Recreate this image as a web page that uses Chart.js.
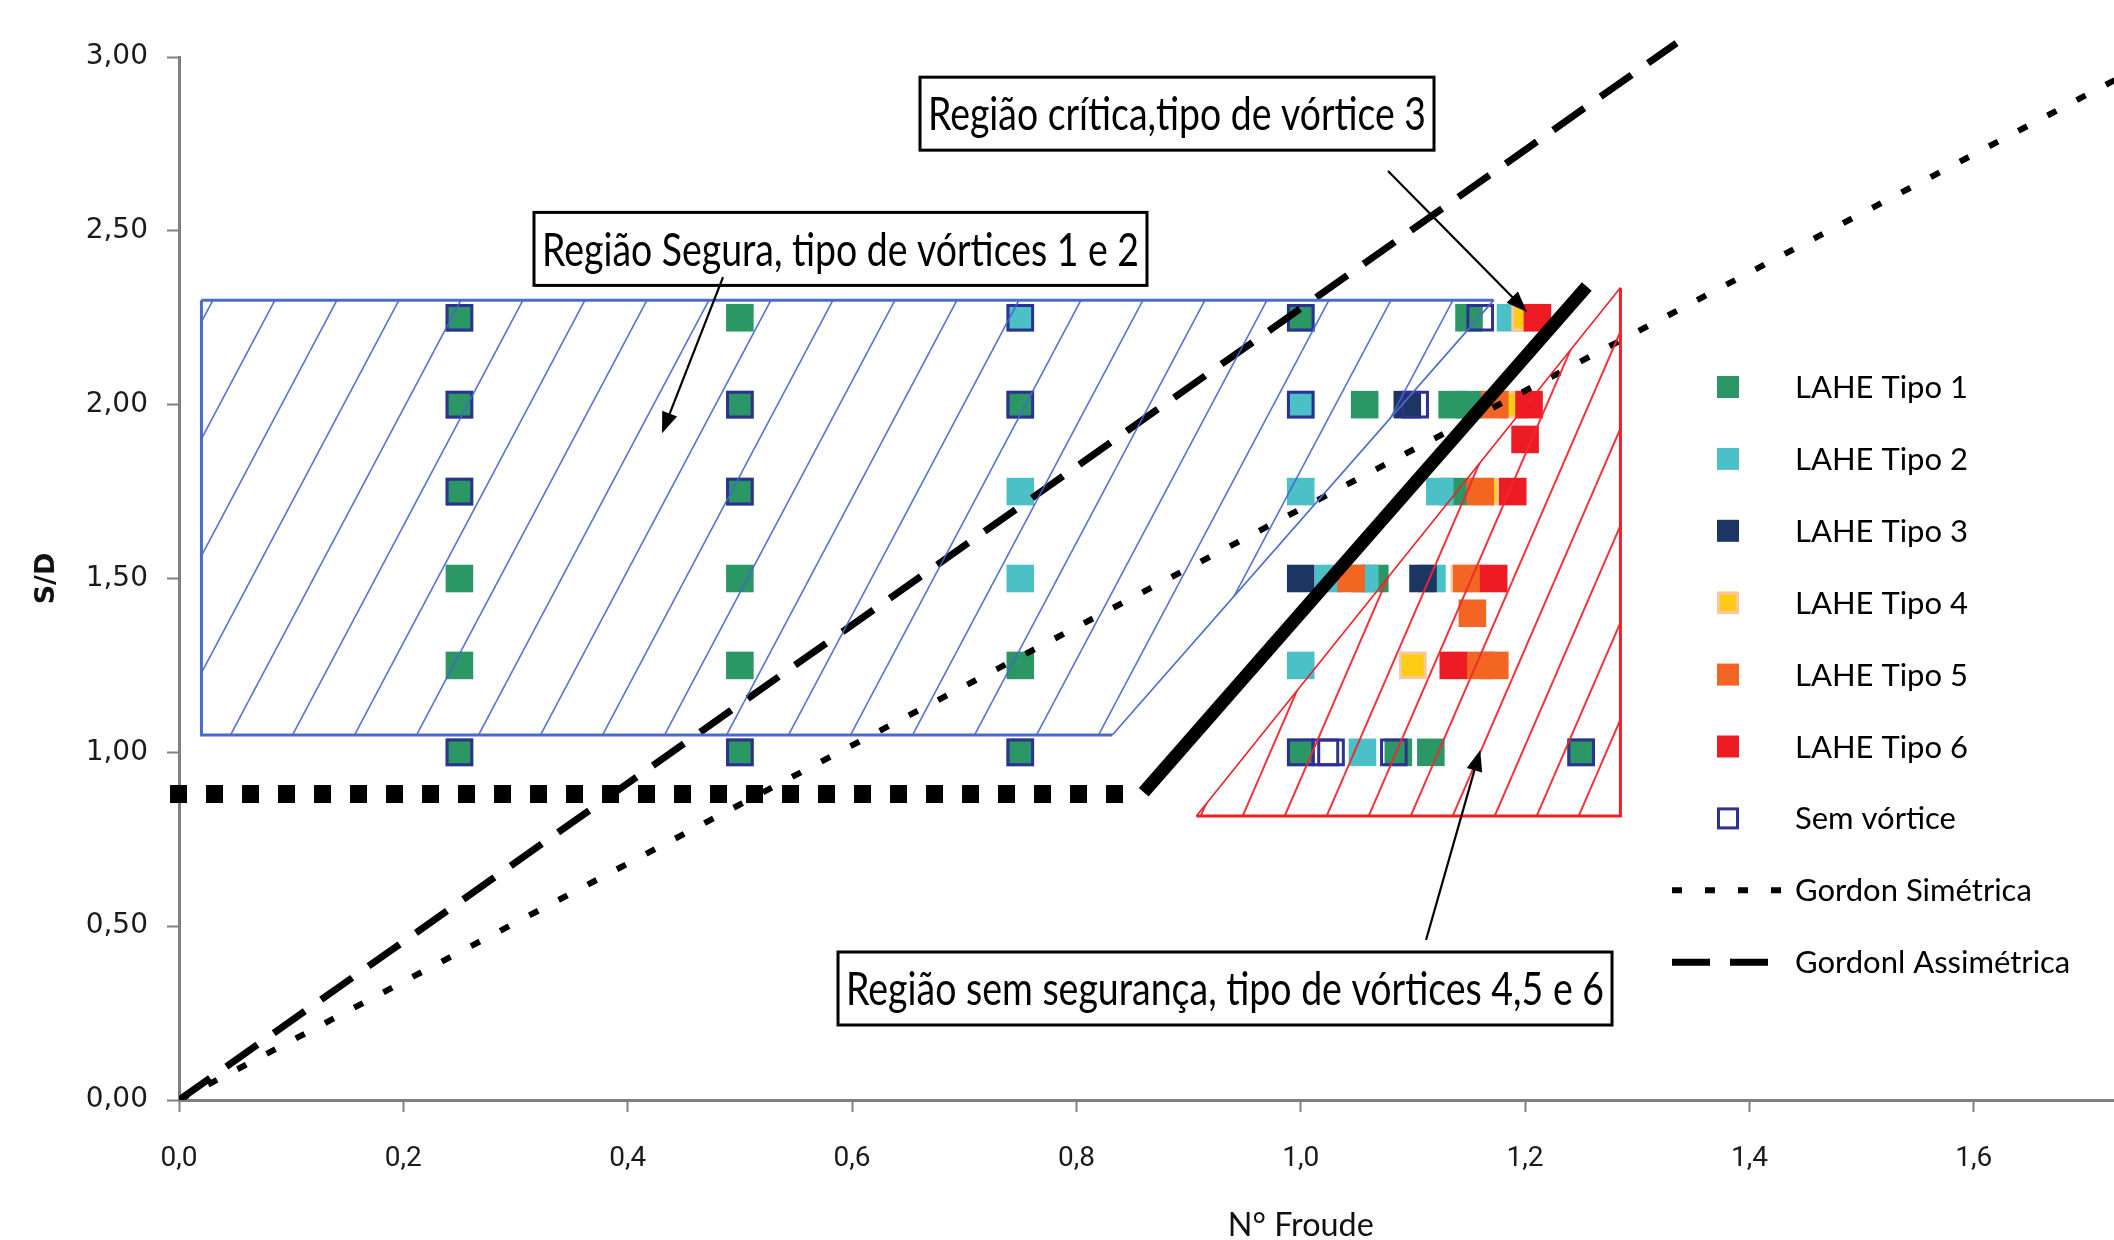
<!DOCTYPE html>
<html>
<head>
<meta charset="utf-8">
<script src="https://cdn.jsdelivr.net/npm/chart.js@4/dist/chart.umd.min.js"></script>
<style>
html,body{margin:0;padding:0;background:#fff;overflow:hidden}
canvas{display:block}
</style>
</head>
<body>
<canvas id="c" width="2114" height="1240"></canvas>
<script>
// ================= DATA =================
const xTickValues = [0, 0.2, 0.4, 0.6, 0.8, 1.0, 1.2, 1.4, 1.6];
const xTickLabels = ['0,0', '0,2', '0,4', '0,6', '0,8', '1,0', '1,2', '1,4', '1,6'];
const yTickValues = [0, 0.5, 1.0, 1.5, 2.0, 2.5, 3.0];
const yTickLabels = ['0,00', '0,50', '1,00', '1,50', '2,00', '2,50', '3,00'];
const xMin = 0, xMax = 1.725, yMin = 0, yMax = 3.0;

// [N° Froude, S/D]
const tipo1 = [
  [0.25, 2.25], [0.25, 2.00], [0.25, 1.75], [0.25, 1.50], [0.25, 1.25], [0.25, 1.00],
  [0.50, 2.25], [0.50, 2.00], [0.50, 1.75], [0.50, 1.50], [0.50, 1.25], [0.50, 1.00],
  [0.75, 2.00], [0.75, 1.25], [0.75, 1.00],
  [1.00, 2.25], [1.00, 1.00],
  [1.150, 2.25], [1.057, 2.00], [1.135, 2.00], [1.150, 2.00], [1.136, 1.75],
  [1.066, 1.50], [1.087, 1.00], [1.116, 1.00], [1.250, 1.00]
];
const tipo2 = [
  [0.75, 2.25], [0.75, 1.75], [0.75, 1.50],
  [1.00, 2.00], [1.00, 1.75], [1.00, 1.25],
  [1.187, 2.25], [1.124, 1.75], [1.025, 1.50], [1.057, 1.50], [1.117, 1.50], [1.055, 1.00]
];
const tipo3 = [[1.00, 1.50], [1.095, 2.00], [1.109, 1.50]];
const tipo4 = [[1.200, 2.25], [1.190, 2.00], [1.165, 1.75], [1.146, 1.50], [1.100, 1.25]];
const tipo5 = [[1.173, 2.00], [1.160, 1.75], [1.045, 1.50], [1.148, 1.50], [1.153, 1.40], [1.160, 1.25], [1.173, 1.25]];
const tipo6 = [[1.211, 2.25], [1.2035, 2.00], [1.200, 1.90], [1.189, 1.75], [1.172, 1.50], [1.136, 1.25]];
const semVortice = [
  [0.25, 2.25], [0.25, 2.00], [0.25, 1.75], [0.25, 1.00],
  [0.50, 2.00], [0.50, 1.75], [0.50, 1.00],
  [0.75, 2.25], [0.75, 2.00], [0.75, 1.00],
  [1.00, 2.25], [1.00, 2.00], [1.00, 1.00],
  [1.160, 2.25], [1.102, 2.00], [1.022, 1.00], [1.027, 1.00], [1.083, 1.00], [1.250, 1.00]
];
const gordonSimetrica = [[0, 0], [1.80, 3.06]];
const gordonAssimetrica = [[0, 0], [1.335, 3.04]];

// drawn regions / limits
const regiaoSegura = [[0.02, 2.30], [1.172, 2.30], [0.832, 1.05], [0.02, 1.05], [0.02, 2.30]];
const regiaoSemSeguranca = [[0.907, 0.817], [1.285, 0.817], [1.285, 2.336], [0.907, 0.817]];
const limiteHorizontal = [[-0.008, 0.88], [0.85, 0.88]];
const limiteInclinado = [[0.86, 0.885], [1.255, 2.34]];

// annotations (texts and anchors in data units)
const noteTexts = ['Região crítica,tipo de vórtice 3', 'Região Segura, tipo de vórtices 1 e 2', 'Região sem segurança, tipo de vórtices 4,5 e 6'];
const noteCenters = [[0.8897, 2.837], [0.5897, 2.448], [0.9325, 0.3207]];
const noteArrowFrom = [[1.0778, 2.672], [0.485, 2.367], [1.1117, 0.460]];
const noteArrowTo = [[1.2017, 2.2665], [0.4306, 1.918], [1.160, 1.0067]];

// ================= STYLE =================
const noteBoxW = [514, 613, 774];
const noteBoxH = 73;
const legendStyle = { top: 387, gap: 71.9, boxX: 1728, box: 22, lineX0: 1672, lineX1: 1781, textX: 1795, font: '31px Lato' };

const pts = a => a.map(([x, y]) => ({ x, y }));

function hatch(color, w, h, lw) {
  const c = document.createElement('canvas');
  c.width = w; c.height = h;
  const g = c.getContext('2d');
  g.strokeStyle = color; g.lineWidth = lw;
  g.beginPath();
  for (const o of [-w, 0, w]) { g.moveTo(o, h); g.lineTo(o + w, 0); }
  g.stroke();
  return g.createPattern(c, 'repeat');
}
const blueHatch = hatch('rgba(70,100,205,0.9)', 62, 117, 1.6);
const redHatch = hatch('rgba(240,40,50,0.95)', 42, 97, 2);

function marker(label, data, color, order, extra) {
  return Object.assign({
    label, data: pts(data), showInLegend: true, order,
    pointStyle: 'rect', pointRadius: 19.5, pointHoverRadius: 19.5,
    pointBackgroundColor: color, pointBorderColor: color, pointBorderWidth: 0,
    backgroundColor: color, borderColor: color
  }, extra || {});
}

const datasets = [
  marker('LAHE Tipo 1', tipo1, '#2b9764', 20),
  marker('LAHE Tipo 2', tipo2, '#4bc0c6', 19),
  marker('LAHE Tipo 3', tipo3, '#1c3563', 18),
  marker('LAHE Tipo 4', tipo4, '#ffcc14', 17, { pointRadius: 17.4, pointBorderWidth: 3, pointBorderColor: '#f8c79b', borderColor: '#f8c79b' }),
  marker('LAHE Tipo 5', tipo5, '#f26522', 16),
  marker('LAHE Tipo 6', tipo6, '#ed1c24', 15),
  marker('Sem vórtice', semVortice, 'rgba(0,0,0,0)', 14, { pointRadius: 17.4, pointBorderWidth: 3, pointBorderColor: '#2e3192', borderColor: '#2e3192' }),
  {
    type: 'line', label: 'Gordon Simétrica', showInLegend: true, data: pts(gordonSimetrica), order: 10,
    borderColor: '#000', borderWidth: 6, borderDash: [10, 23], pointRadius: 0, fill: false
  },
  {
    type: 'line', label: 'Gordonl Assimétrica', showInLegend: true, data: pts(gordonAssimetrica), order: 11,
    borderColor: '#000', borderWidth: 7, borderDash: [38, 20], pointRadius: 0, fill: false,
    clip: { left: 0, top: false, right: 0, bottom: 0 }
  },
  {
    type: 'line', label: 'Região Segura', data: pts(regiaoSegura), order: 8, hatch: blueHatch,
    borderColor: '#4a6bc8', borderWidth: 3, pointRadius: 0, fill: false,
    segment: { borderWidth: c => c.p0DataIndex === 1 ? 1.6 : 3 }
  },
  {
    type: 'line', label: 'Região sem segurança', data: pts(regiaoSemSeguranca), order: 7, hatch: redHatch,
    borderColor: '#ee2028', borderWidth: 3, pointRadius: 0, fill: false,
    segment: { borderWidth: c => c.p0DataIndex === 2 ? 1.6 : 3 }
  },
  {
    type: 'line', label: 'Limite horizontal', data: pts(limiteHorizontal), order: 3,
    borderColor: '#000', borderWidth: 18, borderDash: [17, 19], pointRadius: 0, fill: false,
    clip: { left: false, top: 0, right: 0, bottom: 0 }
  },
  {
    type: 'line', label: 'Limite inclinado', data: pts(limiteInclinado), order: 2,
    borderColor: '#000', borderWidth: 13, pointRadius: 0, fill: false
  }
];

function drawArrow(ctx, x1, y1, x2, y2) {
  const a = Math.atan2(y2 - y1, x2 - x1), L = 21, W = 8;
  ctx.beginPath(); ctx.moveTo(x1, y1);
  ctx.lineTo(x2 - Math.cos(a) * L * 0.8, y2 - Math.sin(a) * L * 0.8);
  ctx.lineWidth = 2.2; ctx.strokeStyle = '#000'; ctx.stroke();
  ctx.beginPath();
  ctx.moveTo(x2, y2);
  ctx.lineTo(x2 - Math.cos(a) * L - Math.sin(a) * W, y2 - Math.sin(a) * L + Math.cos(a) * W);
  ctx.lineTo(x2 - Math.cos(a) * L + Math.sin(a) * W, y2 - Math.sin(a) * L - Math.cos(a) * W);
  ctx.closePath(); ctx.fillStyle = '#000'; ctx.fill();
}

// hatch fill of the region polygons, drawn from the dataset's own points
const hatchPlugin = {
  id: 'hatchFill',
  beforeDatasetDraw(chart, args) {
    const ds = chart.data.datasets[args.index];
    if (!ds.hatch) return;
    const pts = args.meta.data, ctx = chart.ctx, a = chart.chartArea;
    ctx.save();
    ctx.beginPath(); ctx.rect(a.left, a.top, a.right - a.left, a.bottom - a.top); ctx.clip();
    ctx.beginPath();
    pts.forEach((p, i) => i ? ctx.lineTo(p.x, p.y) : ctx.moveTo(p.x, p.y));
    ctx.closePath();
    ctx.fillStyle = ds.hatch;
    ctx.fill();
    ctx.restore();
  }
};

const notesPlugin = {
  id: 'notes',
  afterDatasetsDraw(chart) {
    const { ctx, scales: { x, y } } = chart;
    ctx.save();
    noteTexts.forEach((t, i) => {
      const cx = x.getPixelForValue(noteCenters[i][0]);
      const cy = y.getPixelForValue(noteCenters[i][1]);
      const w = noteBoxW[i], h = noteBoxH;
      ctx.fillStyle = '#fff';
      ctx.fillRect(cx - w / 2, cy - h / 2, w, h);
      ctx.lineWidth = 3; ctx.strokeStyle = '#000';
      ctx.strokeRect(cx - w / 2, cy - h / 2, w, h);
      ctx.font = '46px Lato';
      const tw = ctx.measureText(t).width;
      const sx = (w - 16) / tw;
      ctx.save();
      ctx.translate(cx, cy + 2);
      ctx.scale(sx, 1);
      ctx.fillStyle = '#000'; ctx.textAlign = 'center'; ctx.textBaseline = 'middle';
      ctx.fillText(t, 0, 0);
      ctx.restore();
      drawArrow(ctx,
        x.getPixelForValue(noteArrowFrom[i][0]), y.getPixelForValue(noteArrowFrom[i][1]),
        x.getPixelForValue(noteArrowTo[i][0]), y.getPixelForValue(noteArrowTo[i][1]));
    });
    ctx.restore();
  }
};

const legendPlugin = {
  id: 'customLegend',
  afterDraw(chart) {
    const ctx = chart.ctx, L = legendStyle;
    ctx.save();
    chart.data.datasets.filter(d => d.showInLegend).forEach((d, i) => {
      const yc = L.top + i * L.gap;
      if (d.type === 'line') {
        ctx.strokeStyle = d.borderColor; ctx.lineWidth = d.borderWidth;
        ctx.setLineDash(d.borderDash || []);
        ctx.beginPath(); ctx.moveTo(L.lineX0, yc); ctx.lineTo(L.lineX1, yc); ctx.stroke();
        ctx.setLineDash([]);
      } else {
        const s = L.box, bw = d.pointBorderWidth || 0;
        ctx.fillStyle = d.pointBackgroundColor;
        ctx.fillRect(L.boxX - s / 2, yc - s / 2, s, s);
        if (bw) {
          ctx.lineWidth = bw; ctx.strokeStyle = d.pointBorderColor;
          ctx.strokeRect(L.boxX - s / 2 + bw / 2, yc - s / 2 + bw / 2, s - bw, s - bw);
        }
      }
      ctx.font = L.font; ctx.fillStyle = '#000';
      ctx.textAlign = 'left'; ctx.textBaseline = 'middle';
      ctx.fillText(d.label, L.textX, yc + 1);
    });
    // x axis title
    const xs = chart.scales.x;
    ctx.font = '32px Lato';
    const t = 'N° Froude';
    const tw = ctx.measureText(t).width;
    ctx.save();
    ctx.translate(xs.getPixelForValue(1.0), 1236);
    ctx.scale(146 / tw, 1);
    ctx.textAlign = 'center'; ctx.textBaseline = 'alphabetic';
    ctx.fillStyle = '#111';
    ctx.fillText(t, 0, 0);
    ctx.restore();
    ctx.restore();
  }
};

new Chart(document.getElementById('c'), {
  type: 'scatter',
  data: { datasets },
  options: {
    responsive: false, animation: false, devicePixelRatio: 1, events: [],
    layout: { autoPadding: false, padding: { top: 57, right: 0, left: 0, bottom: 0 } },
    plugins: { legend: { display: false }, tooltip: { enabled: false } },
    scales: {
      x: {
        type: 'linear', min: xMin, max: xMax,
        afterBuildTicks: s => { s.ticks = xTickValues.map(v => ({ value: v })); },
        afterFit: s => { s.height = 140; s.paddingRight = 0; s.paddingLeft = 0; },
        ticks: {
          callback: (v, i) => xTickLabels[i], autoSkip: false, maxRotation: 0,
          font: { family: 'Roboto', size: 28 }, color: '#1a1a1a', padding: 30
        },
        grid: { display: true, drawOnChartArea: false, drawTicks: true, tickLength: 12, tickWidth: 2, tickColor: '#808080' },
        border: { display: true, color: '#808080', width: 3 }
      },
      y: {
        type: 'linear', min: yMin, max: yMax,
        afterBuildTicks: s => { s.ticks = yTickValues.map(v => ({ value: v })); },
        afterFit: s => { s.width = 179; },
        ticks: {
          callback: (v, i) => yTickLabels[i],
          font: { family: 'DejaVu Sans', size: 28 }, color: '#1a1a1a', padding: 19
        },
        grid: { display: true, drawOnChartArea: false, drawTicks: true, tickLength: 12, tickWidth: 2, tickColor: '#808080' },
        border: { display: true, color: '#808080', width: 3 },
        title: { display: true, text: 'S/D', color: '#111', font: { family: 'DejaVu Sans', size: 27, weight: 'bold' }, padding: { top: 31, bottom: 0 } }
      }
    }
  },
  plugins: [hatchPlugin, notesPlugin, legendPlugin]
});
</script>
</body>
</html>
